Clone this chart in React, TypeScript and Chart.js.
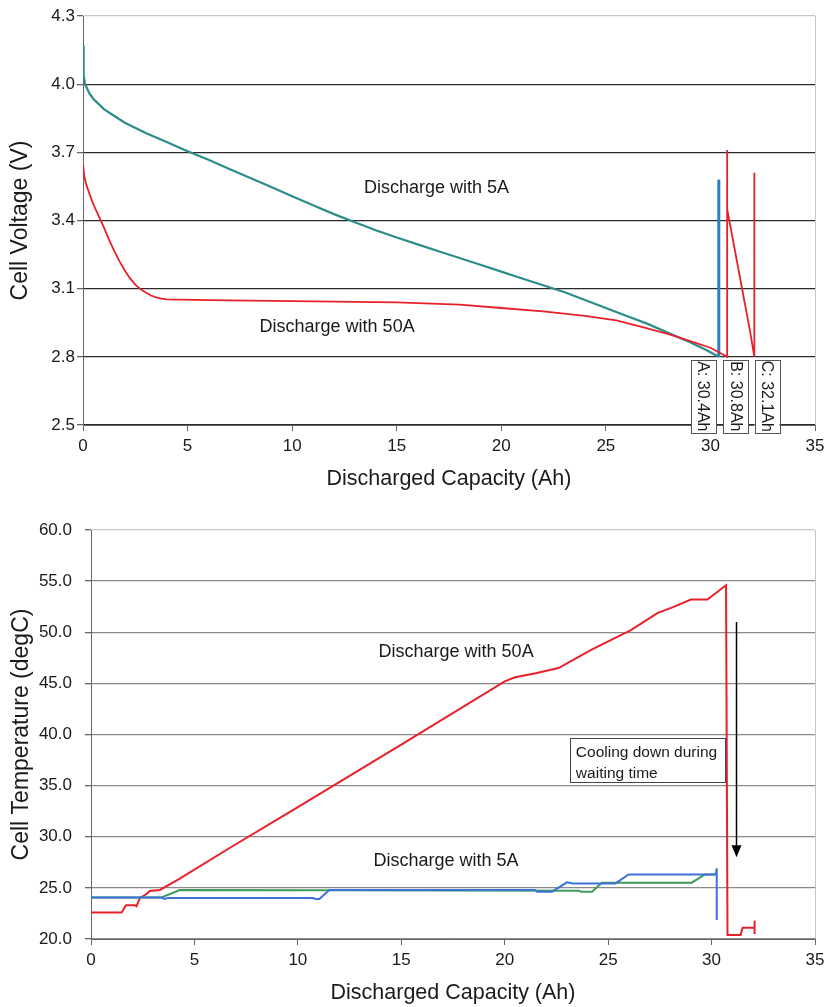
import React, { useEffect, useRef } from "react";
import { Chart, registerables } from "chart.js";

Chart.register(...registerables);

const FONT = "'Liberation Sans', Arial, Helvetica, sans-serif";
const TEXT = "#1a1a1a";

// ---------- Top chart: cell voltage vs discharged capacity ----------
const capacity5A_V = [0, 0.03, 0.1, 0.3, 0.5, 1, 1.5, 2, 3, 4, 5, 6, 7, 8, 9, 10, 11, 12, 13, 14, 15, 16, 17, 18, 19, 20, 21, 22, 23, 24, 25, 26, 27, 28, 29, 29.8, 30.4];
const voltage5A = [4.17, 4.04, 4.0, 3.96, 3.935, 3.89, 3.86, 3.83, 3.785, 3.745, 3.705, 3.667, 3.627, 3.587, 3.547, 3.507, 3.467, 3.428, 3.392, 3.357, 3.325, 3.295, 3.265, 3.235, 3.205, 3.175, 3.145, 3.115, 3.085, 3.05, 3.015, 2.98, 2.945, 2.905, 2.865, 2.83, 2.8];
const capacity5A_cut = [30.4, 30.4];
const voltage5A_cut = [2.8, 3.58];
const capacity50A_V = [0, 0.05, 0.15, 0.3, 0.5, 0.7, 1.0, 1.25, 1.5, 1.75, 2.0, 2.25, 2.5, 2.75, 3.0, 3.25, 3.5, 3.75, 4.0, 6, 10, 15, 18, 20, 22, 24, 25.5, 26.8, 28, 29, 30, 30.8, 30.8, 30.8, 31.35, 31.9, 32.1, 32.1];
const voltage50A = [3.65, 3.6, 3.56, 3.52, 3.47, 3.43, 3.37, 3.315, 3.265, 3.22, 3.18, 3.145, 3.118, 3.098, 3.083, 3.07, 3.062, 3.056, 3.053, 3.05, 3.045, 3.04, 3.03, 3.015, 3.0, 2.98, 2.96, 2.93, 2.9, 2.87, 2.84, 2.8, 3.71, 3.45, 3.18, 2.91, 2.8, 3.61];
const voltageTicks = [2.5, 2.8, 3.1, 3.4, 3.7, 4.0, 4.3];
const capacityTicks = [0, 5, 10, 15, 20, 25, 30, 35];
const markerLabels = ["A: 30.4Ah", "B: 30.8Ah", "C: 32.1Ah"];
const markerCapacities = [30.4, 30.8, 32.1];
const markerVoltage = 2.8;

// ---------- Bottom chart: cell temperature vs discharged capacity ----------
const capacity50A_T = [0, 1.48, 1.69, 2.12, 2.2, 2.36, 2.68, 2.84, 3.33, 4.29, 6.7, 10, 15, 20, 20.5, 21.5, 22.6, 24.2, 26.1, 27.4, 28.2, 29.0, 29.8, 30.7, 30.77, 31.4, 31.5, 32.05, 32.08, 32.08, 32.08];
const temp50A = [22.6, 22.6, 23.3, 23.3, 23.2, 24.0, 24.4, 24.7, 24.8, 25.9, 28.9, 32.9, 39.0, 45.2, 45.6, 46.0, 46.5, 48.3, 50.2, 51.9, 52.5, 53.2, 53.2, 54.6, 20.4, 20.4, 21.1, 21.1, 21.1, 21.8, 20.5];
const capacity5A_Tblue = [0, 3.41, 3.55, 3.73, 10.72, 10.85, 11.04, 11.52, 21.45, 21.57, 22.29, 23.01, 23.3, 25.35, 25.99, 29.52, 30.2, 30.25, 30.25];
const temp5A_blue = [24.07, 24.07, 23.91, 24.0, 24.0, 23.91, 23.91, 24.79, 24.79, 24.63, 24.63, 25.54, 25.44, 25.44, 26.32, 26.32, 26.32, 26.91, 21.86];
const capacity5A_Tgreen = [0, 3.41, 4.29, 23.58, 23.7, 24.22, 24.7, 29.04, 29.68, 30.2];
const temp5A_green = [24.07, 24.07, 24.79, 24.73, 24.63, 24.63, 25.51, 25.51, 26.32, 26.32];
const tempTicks = [20, 25, 30, 35, 40, 45, 50, 55, 60];
const coolingArrowCapacity = 31.16;
const coolingArrowFrom = 51.0;
const coolingArrowTo = 28.0;

const pts = (xs: number[], ys: number[]) => xs.map((x, i) => ({ x, y: ys[i] }));

function series(label: string, xs: number[], ys: number[], color: string, width: number) {
  return {
    label,
    data: pts(xs, ys),
    borderColor: color,
    backgroundColor: color,
    borderWidth: width,
    showLine: true,
    pointRadius: 0,
    tension: 0,
    fill: false,
  };
}

const framePlugin = {
  id: "frameRight",
  beforeDatasetsDraw(chart: any) {
    const { ctx, chartArea: a } = chart;
    ctx.save();
    ctx.strokeStyle = "#c4c4c4";
    ctx.lineWidth = 1;
    ctx.beginPath();
    ctx.moveTo(Math.round(a.right) + 0.5, a.top);
    ctx.lineTo(Math.round(a.right) + 0.5, a.bottom);
    ctx.stroke();
    ctx.restore();
  },
};

function drawText(ctx: any, text: string, x: number, y: number, size: number, align: string = "center") {
  ctx.save();
  ctx.font = `${size}px ${FONT}`;
  ctx.fillStyle = TEXT;
  ctx.textAlign = align;
  ctx.textBaseline = "middle";
  ctx.fillText(text, x, y);
  ctx.restore();
}

const topNotes = {
  id: "topNotes",
  afterDatasetsDraw(chart: any) {
    const { ctx } = chart;
    const xs = chart.scales.x;
    const ys = chart.scales.y;
    drawText(ctx, "Discharge with 5A", xs.getPixelForValue(16.9), ys.getPixelForValue(3.543), 18);
    drawText(ctx, "Discharge with 50A", xs.getPixelForValue(12.15), ys.getPixelForValue(2.931), 18);
    const offsets = [-15.3, 8.8, 12.7];
    const top = ys.getPixelForValue(markerVoltage) + 3;
    const w = 25;
    const h = 73;
    markerLabels.forEach((lab, i) => {
      const cx = xs.getPixelForValue(markerCapacities[i]) + offsets[i];
      ctx.save();
      ctx.fillStyle = "#ffffff";
      ctx.strokeStyle = "#555";
      ctx.lineWidth = 1;
      ctx.fillRect(cx - w / 2, top, w, h);
      ctx.strokeRect(Math.round(cx - w / 2) + 0.5, Math.round(top) + 0.5, w, h);
      ctx.translate(cx, top + h / 2);
      ctx.rotate(Math.PI / 2);
      ctx.font = `16px ${FONT}`;
      ctx.fillStyle = TEXT;
      ctx.textAlign = "center";
      ctx.textBaseline = "middle";
      ctx.fillText(lab, 0, 1);
      ctx.restore();
    });
  },
};

const bottomNotes = {
  id: "bottomNotes",
  afterDatasetsDraw(chart: any) {
    const { ctx } = chart;
    const xs = chart.scales.x;
    const ys = chart.scales.y;
    drawText(ctx, "Discharge with 50A", xs.getPixelForValue(17.65), ys.getPixelForValue(48.07), 18);
    drawText(ctx, "Discharge with 5A", xs.getPixelForValue(17.16), ys.getPixelForValue(27.63), 18);
    // cooling box
    const bx0 = xs.getPixelForValue(23.15);
    const bx1 = xs.getPixelForValue(30.65);
    const by0 = ys.getPixelForValue(39.65);
    const by1 = ys.getPixelForValue(35.35);
    ctx.save();
    ctx.fillStyle = "#ffffff";
    ctx.fillRect(bx0, by0, bx1 - bx0, by1 - by0);
    ctx.strokeStyle = "#444";
    ctx.lineWidth = 1;
    ctx.strokeRect(Math.round(bx0) + 0.5, Math.round(by0) + 0.5, Math.round(bx1 - bx0), Math.round(by1 - by0));
    ctx.restore();
    drawText(ctx, "Cooling down during", bx0 + 6, ys.getPixelForValue(38.2), 15.5, "left");
    drawText(ctx, "waiting time", bx0 + 6, ys.getPixelForValue(36.2), 15.5, "left");
    // arrow
    const ax = Math.round(xs.getPixelForValue(coolingArrowCapacity)) + 0.5;
    const ay0 = ys.getPixelForValue(coolingArrowFrom);
    const ay1 = ys.getPixelForValue(coolingArrowTo);
    ctx.save();
    ctx.strokeStyle = "#000";
    ctx.fillStyle = "#000";
    ctx.lineWidth = 1.5;
    ctx.beginPath();
    ctx.moveTo(ax, ay0);
    ctx.lineTo(ax, ay1 - 10);
    ctx.stroke();
    ctx.beginPath();
    ctx.moveTo(ax - 5, ay1 - 12);
    ctx.lineTo(ax + 5, ay1 - 12);
    ctx.lineTo(ax, ay1);
    ctx.closePath();
    ctx.fill();
    ctx.restore();
  },
};

function makeScales(o: any) {
  return {
    x: {
      type: "linear",
      min: 0,
      max: 35,
      afterBuildTicks: (s: any) => {
        s.ticks = capacityTicks.map((v) => ({ value: v }));
      },
      afterFit: (s: any) => {
        s.height = o.xHeight;
        s.paddingLeft = 0;
        s.paddingRight = 0;
      },
      ticks: {
        font: { family: FONT, size: 17 },
        color: TEXT,
        padding: 5,
        maxRotation: 0,
        callback: (v: any) => String(v),
      },
      grid: { drawOnChartArea: false, drawTicks: true, tickLength: 6, color: "#666", lineWidth: 1 },
      border: { color: "#666", width: 1 },
      title: {
        display: true,
        text: "Discharged Capacity (Ah)",
        font: { family: FONT, size: 21.5 },
        color: TEXT,
        padding: { top: 0, bottom: o.xTitlePad },
      },
    },
    y: {
      type: "linear",
      min: o.yMin,
      max: o.yMax,
      afterBuildTicks: (s: any) => {
        s.ticks = o.yTicks.map((v: number) => ({ value: v }));
      },
      afterFit: (s: any) => {
        s.width = o.yWidth;
        s.paddingTop = 0;
        s.paddingBottom = 0;
      },
      ticks: {
        font: { family: FONT, size: 17 },
        color: TEXT,
        padding: o.yTickPad,
        callback: (v: any) => Number(v).toFixed(1),
      },
      grid: {
        color: (c: any) => (c.tick && c.tick.value === o.yMax ? "#c8c8c8" : o.gridColor),
        lineWidth: 1.3,
        tickLength: 6,
        tickColor: "#666",
      },
      border: { color: "#666", width: 1 },
      title: {
        display: true,
        text: o.yTitle,
        font: { family: FONT, size: 23 },
        color: TEXT,
        padding: { top: o.yTitlePad, bottom: 0 },
      },
    },
  };
}

function ChartCanvas({ config, width, height }: any) {
  const ref = useRef<HTMLCanvasElement | null>(null);
  useEffect(() => {
    if (!ref.current) return;
    const chart = new Chart(ref.current, config);
    return () => chart.destroy();
  }, []);
  return <canvas ref={ref} width={width} height={height} style={{ display: "block", width, height }} />;
}

const topConfig: any = {
  type: "scatter",
  data: {
    datasets: [
      series("Discharge with 50A", capacity50A_V, voltage50A, "#e8202a", 1.8),
      series("Discharge with 5A", capacity5A_V, voltage5A, "#2c8d88", 2.2),
      series("5A cut-off", capacity5A_cut, voltage5A_cut, "#2f7fbf", 3),
    ],
  },
  options: {
    responsive: false,
    animation: false,
    events: [],
    layout: { padding: { left: 0, top: 16, right: 10, bottom: 0 } },
    plugins: { legend: { display: false }, tooltip: { enabled: false } },
    scales: makeScales({
      xHeight: 75,
      xTitlePad: 8,
      yMin: 2.5,
      yMax: 4.3,
      yTicks: voltageTicks,
      yWidth: 83,
      yTickPad: 2,
      yTitle: "Cell Voltage (V)",
      yTitlePad: 7,
      gridColor: "#2a2a2a",
    }),
  },
  plugins: [framePlugin, topNotes],
};

const bottomConfig: any = {
  type: "scatter",
  data: {
    datasets: [
      series("Discharge with 5A (cell 1)", capacity5A_Tblue, temp5A_blue, "#3b73d6", 2),
      series("Discharge with 5A (cell 2)", capacity5A_Tgreen, temp5A_green, "#3d9a5c", 2),
      series("Discharge with 50A", capacity50A_T, temp50A, "#e8202a", 2),
    ],
  },
  options: {
    responsive: false,
    animation: false,
    events: [],
    layout: { padding: { left: 0, top: 30, right: 10, bottom: 0 } },
    plugins: { legend: { display: false }, tooltip: { enabled: false } },
    scales: makeScales({
      xHeight: 68,
      xTitlePad: 1,
      yMin: 20,
      yMax: 60,
      yTicks: tempTicks,
      yWidth: 91,
      yTickPad: 13,
      yTitle: "Cell Temperature (degC)",
      yTitlePad: 8,
      gridColor: "#8a8a8a",
    }),
  },
  plugins: [framePlugin, bottomNotes],
};

export default function App() {
  return (
    <div style={{ position: "absolute", left: 0, top: 0, width: 825, height: 1007, background: "#fff" }}>
      <ChartCanvas config={topConfig} width={825} height={500} />
      <ChartCanvas config={bottomConfig} width={825} height={507} />
    </div>
  );
}
